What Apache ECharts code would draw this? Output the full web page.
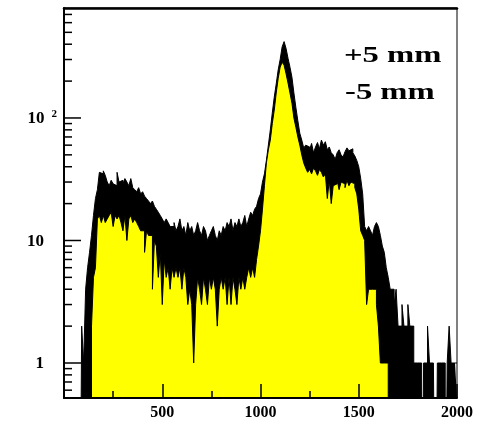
<!DOCTYPE html>
<html><head><meta charset="utf-8">
<script src="https://cdn.jsdelivr.net/npm/echarts@6/dist/echarts.min.js"></script>
<style>html,body{margin:0;padding:0;background:#fff}#c{width:492px;height:430px}</style>
</head><body><div id="c"></div>
<script>
// histogram binning (x in channel units)
const binStart = 0;
const binWidth = 10;

// +5 mm (black), counts per bin, 200 bins from 0 to 2000
const plus5 = [
  0,0,0,0,0,0,0,0,0,2,
  1,4,6,8,11,16,22,26,36,35,
  37,34,30,28,31,29,28,36,30,31,
  29,32,30,28,32,27,26,25,27,24,
  25,23,22,21,20,21,19,18,17,16,
  15,14,15,14,13,13,14,12,13,15,
  12,13,11,14,12,13,11,12,14,12,
  11,13,12,10,11,12,13,11,10,12,
  11,13,12,14,13,15,12,14,13,15,
  13,14,16,13,15,17,16,18,19,22,
  24,30,35,45,60,80,110,148,190,247,
  300,380,420,370,307,260,215,160,122,95,
  75,66,57,60,58,55,62,52,58,63,
  56,66,60,64,55,58,52,50,46,52,
  55,50,48,53,57,54,56,52,49,45,
  40,32,24,13,12,13,12,11,13,14,
  13,11,9,8,6,5,4,4,3,4,
  2,2,3,2,2,3,2,2,1,1,
  1,1,0,1,1,2,1,1,1,0,
  1,1,1,1,0,1,2,1,1,1
];

// -5 mm (yellow), counts per bin, 200 bins from 0 to 2000
const minus5 = [
  0,0,0,0,0,0,0,0,0,0,
  0,0,0,0,2,5,6,15,16,14,
  16,14,15,16,17,13,16,15,16,14,
  12,16,10,15,16,14,15,14,13,12,
  12,8,12,11,11,4,10,9,5,8,
  3,7,5,6,4,6,5,6,5,6,
  4,6,5,3,4,3,1,3,5,4,
  3,5,4,3,5,4,5,4,2,4,
  5,4,5,3,5,3,5,4,3,5,
  4,5,4,5,6,5,6,5,7,9,
  12,18,28,43,55,66,90,116,160,210,
  260,285,270,230,193,160,132,100,84,70,
  60,50,43,39,36,38,35,39,37,34,
  38,36,33,35,22,31,20,28,29,31,
  26,30,29,27,31,28,30,29,27,24,
  18,12,11,10,3,4,4,4,4,3,
  2,1,1,1,1,0,0,0,0,0,
  0,0,0,0,0,0,0,0,0,0,
  0,0,0,0,0,0,0,0,0,0,
  0,0,0,0,0,0,0,0,0,0
];

const seriesNames = ['+5 mm', '-5 mm'];
const xTickLabels = ['500', '1000', '1500', '2000'];
const yMajorTicks = [1, 10, 100];
const yTickLabels = ['1', '10', '10^2'];
const yMinorTicks = [0.6,0.7,0.8,0.9,2,3,4,5,6,7,8,9,20,30,40,50,60,70,80,90,200,300,400,500,600,700];

const FLOOR = 0.01; // empty bins sit below the log axis floor

function histData(arr) {
  const d = arr.map((v, i) => [binStart + i * binWidth, v > 0 ? v : FLOOR]);
  const last = arr[arr.length - 1];
  d.push([binStart + arr.length * binWidth, last > 0 ? last : FLOOR]);
  return d;
}

const font = '"Liberation Serif", "Times New Roman", serif';
const chart = echarts.init(document.getElementById('c'), null, {renderer: 'canvas'});

const option = {
  animation: false,
  backgroundColor: '#fff',
  grid: {left: 64, right: 35, top: 8, bottom: 32, show: true, borderColor: '#000', borderWidth: 1, backgroundColor: 'transparent'},
  xAxis: [{
    type: 'value', min: 0, max: 2000, interval: 500, z: 10,
    axisLine: {show: true, onZero: false, lineStyle: {color: '#000', width: 2}},
    axisTick: {show: true, inside: true, length: 14, lineStyle: {color: '#000', width: 1.5}},
    minorTick: {show: true, splitNumber: 2, length: 7, lineStyle: {color: '#000', width: 1.5}},
    splitLine: {show: false},
    axisLabel: {
      margin: 7, color: '#000', fontFamily: font, fontWeight: 'bold', fontSize: 16,
      formatter: v => xTickLabels.includes(String(v)) ? String(v) : ''
    }
  }, {
    type: 'value', position: 'top', min: 0, max: 2000, z: 10,
    axisLine: {show: true, onZero: false, lineStyle: {color: '#000', width: 2.5}},
    axisTick: {show: false}, axisLabel: {show: false}, splitLine: {show: false}
  }],
  yAxis: {
    type: 'log', logBase: 10, min: 0.518, max: 790, z: 10,
    axisLine: {show: true, lineStyle: {color: '#000', width: 2}},
    axisTick: {show: false},
    splitLine: {show: false},
    axisLabel: {
      margin: 7, align: 'right',
      formatter: v => {
        const idx = yMajorTicks.findIndex(t => Math.abs(t - v) < 1e-6 * t);
        if (idx < 0) return '';
        const lab = yTickLabels[idx];
        if (lab.indexOf('^') >= 0) {
          const [b, e] = lab.split('^');
          return '{n|' + b + '}{sup|' + e + '}';
        }
        return '{n|' + lab + '}{sp|\u00a0}';
      },
      rich: {
        n: {fontFamily: font, fontWeight: 'bold', fontSize: 17, color: '#000', lineHeight: 19, verticalAlign: 'bottom'},
        sup: {fontFamily: font, fontWeight: 'bold', fontSize: 11, color: '#000', lineHeight: 11, padding: [0, 0, 0, 7], verticalAlign: 'top'},
        sp: {fontSize: 11, width: 13}
      }
    }
  },
  series: [
    {
      name: seriesNames[0], type: 'line', step: 'end', symbol: 'none',
      data: histData(plus5), z: 2,
      lineStyle: {color: '#000', width: 1},
      itemStyle: {color: '#000'},
      areaStyle: {color: '#000', opacity: 1, origin: 'start'}
    },
    {
      name: seriesNames[1], type: 'line', step: 'end', symbol: 'none',
      data: histData(minus5), z: 3,
      lineStyle: {color: '#000', width: 1},
      itemStyle: {color: '#ffff00'},
      areaStyle: {color: '#ffff00', opacity: 1, origin: 'start'}
    },
    {
      name: 'yticks', type: 'custom', silent: true, z: 12, clip: false,
      data: yMajorTicks.map(v => [0, v, 1]).concat(yMinorTicks.map(v => [0, v, 0])),
      renderItem: (params, api) => {
        const p = api.coord([api.value(0), api.value(1)]);
        const len = api.value(2) ? 17 : 8;
        return {type: 'line', shape: {x1: p[0], y1: p[1], x2: p[0] + len, y2: p[1]}, style: {stroke: '#000', lineWidth: 1.5}};
      }
    }
  ],
  graphic: [
    {type: 'text', x: 344, y: 56, scaleX: 1.42, z: 20,
     style: {text: seriesNames[0], fontFamily: font, fontWeight: 'bold', fontSize: 23, fill: '#000', align: 'left', verticalAlign: 'middle'}},
    {type: 'text', x: 345, y: 93, scaleX: 1.42, z: 20,
     style: {text: seriesNames[1], fontFamily: font, fontWeight: 'bold', fontSize: 23, fill: '#000', align: 'left', verticalAlign: 'middle'}}
  ]
};
chart.setOption(option);
</script>
</body></html>
